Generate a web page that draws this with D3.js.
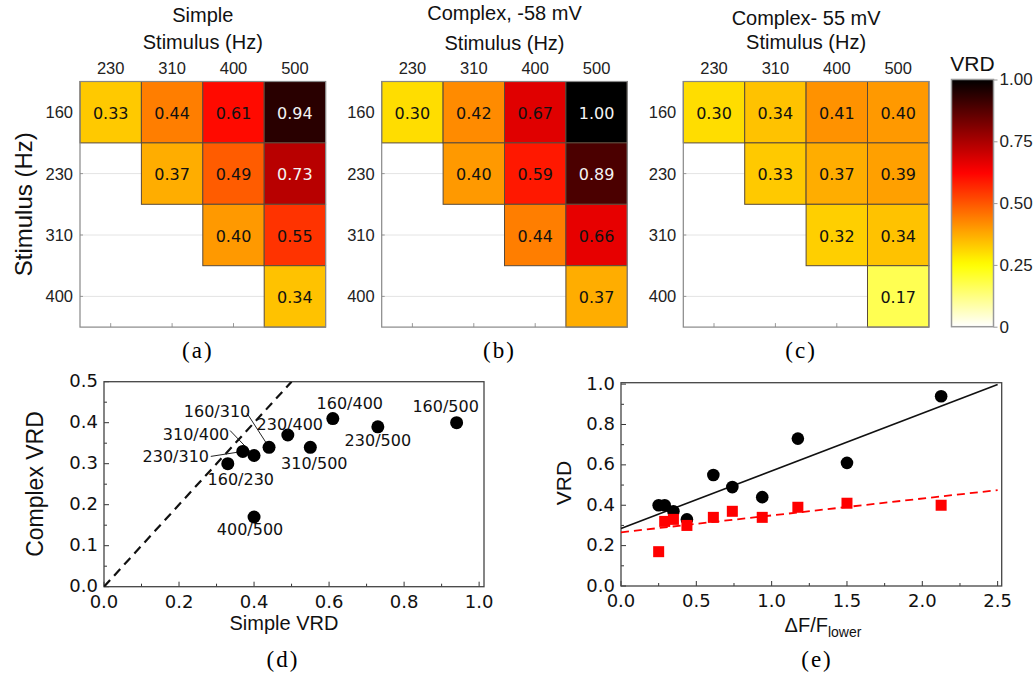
<!DOCTYPE html>
<html><head><meta charset="utf-8">
<script src="https://cdn.jsdelivr.net/npm/d3@7"></script>
<style>body{margin:0;background:#fff} svg{display:block}</style>
</head><body>
<svg id="fig" width="1036" height="675"></svg>
<script>
// ---- data ----
const rowFreqs = ["160", "230", "310", "400"];
const colFreqs = ["230", "310", "400", "500"];
const simpleVRD = [[0.33, 0.44, 0.61, 0.94], [null, 0.37, 0.49, 0.73], [null, null, 0.40, 0.55], [null, null, null, 0.34]];
const complex58VRD = [[0.30, 0.42, 0.67, 1.00], [null, 0.40, 0.59, 0.89], [null, null, 0.44, 0.66], [null, null, null, 0.37]];
const complex55VRD = [[0.30, 0.34, 0.41, 0.40], [null, 0.33, 0.37, 0.39], [null, null, 0.32, 0.34], [null, null, null, 0.17]];
const colorbarTicks = [0, 0.25, 0.5, 0.75, 1.0];

// pairs plotted in (d) and (e)
const pairs = ["160/230", "160/310", "160/400", "160/500", "230/310", "230/400", "230/500", "310/400", "310/500", "400/500"];
const pairSimple = [0.33, 0.44, 0.61, 0.94, 0.37, 0.49, 0.73, 0.40, 0.55, 0.40];
const pairComplex = [0.30, 0.34, 0.41, 0.40, 0.33, 0.37, 0.39, 0.32, 0.34, 0.17];
const pairDeltaF = [0.4375, 0.9375, 1.5, 2.125, 0.348, 0.739, 1.174, 0.290, 0.613, 0.25];
// linear fits drawn in (e): [intercept, slope]
const fitSimple = [0.285, 0.285];
const fitComplex = [0.266, 0.0836];

const svg = d3.select("#fig");
const SANS = "'Liberation Sans', Arial, sans-serif";
const VERD = "'DejaVu Sans', Verdana, sans-serif";
const SERIF = "'Liberation Serif', 'Times New Roman', serif";

// reversed "hot" colormap: 0 -> white, 1 -> black
function hotR(v) {
  const x = 1 - Math.max(0, Math.min(1, v));
  const r = Math.min(1, x / 0.375);
  const g = Math.max(0, Math.min(1, (x - 0.375) / 0.375));
  const b = Math.max(0, Math.min(1, (x - 0.75) / 0.25));
  return d3.rgb(r * 255, g * 255, b * 255).toString();
}

function caption(x, y, s) {
  svg.append("text").attr("x", x).attr("y", y).attr("text-anchor", "middle")
    .attr("font-family", SERIF).attr("font-size", 23).attr("letter-spacing", 2)
    .text(s);
}

// ---- heatmaps ----
function heatmap(left, values, titleLines, showYLabel, tag) {
  const top = 81.5, size = 245.6;
  const x = d3.scaleBand(colFreqs, [left, left + size]);
  const y = d3.scaleBand(rowFreqs, [top, top + size]);
  const g = svg.append("g");

  // faint row gridlines
  g.selectAll("line.grid").data(rowFreqs).join("line")
    .attr("x1", left).attr("x2", left + size)
    .attr("y1", d => y(d) + y.bandwidth() / 2).attr("y2", d => y(d) + y.bandwidth() / 2)
    .attr("stroke", "#e4e4e4").attr("stroke-width", 1);
  // tick marks
  g.selectAll("line.btick").data(colFreqs).join("line")
    .attr("x1", d => x(d) + x.bandwidth() / 2).attr("x2", d => x(d) + x.bandwidth() / 2)
    .attr("y1", top + size).attr("y2", top + size - 4)
    .attr("stroke", "#999");
  g.selectAll("line.ltick").data(rowFreqs).join("line")
    .attr("x1", left).attr("x2", left + 3)
    .attr("y1", d => y(d) + y.bandwidth() / 2).attr("y2", d => y(d) + y.bandwidth() / 2)
    .attr("stroke", "#999");

  const cells = [];
  values.forEach((row, i) => row.forEach((v, j) => {
    if (v !== null) cells.push({ r: rowFreqs[i], c: colFreqs[j], v });
  }));
  g.selectAll("rect.cell").data(cells).join("rect")
    .attr("x", d => x(d.c)).attr("y", d => y(d.r))
    .attr("width", x.bandwidth()).attr("height", y.bandwidth())
    .attr("fill", d => hotR(d.v))
    .attr("stroke", "#5a4a3a").attr("stroke-width", 1);
  g.selectAll("text.val").data(cells).join("text")
    .attr("x", d => x(d.c) + x.bandwidth() / 2)
    .attr("y", d => y(d.r) + y.bandwidth() / 2 + 1)
    .attr("text-anchor", "middle").attr("dominant-baseline", "central")
    .attr("font-family", VERD).attr("font-size", 16)
    .attr("fill", d => d.v > 0.7 ? "#f4f4f4" : "#111")
    .text(d => d.v.toFixed(2));

  // frame
  g.append("rect").attr("x", left).attr("y", top).attr("width", size).attr("height", size)
    .attr("fill", "none").attr("stroke", "#888").attr("stroke-width", 1.2);

  // tick labels
  g.selectAll("text.col").data(colFreqs).join("text")
    .attr("x", d => x(d) + x.bandwidth() / 2).attr("y", 74)
    .attr("text-anchor", "middle").attr("font-family", SANS).attr("font-size", 16.5)
    .attr("fill", "#222").text(d => d);
  g.selectAll("text.row").data(rowFreqs).join("text")
    .attr("x", left - 7).attr("y", d => y(d) + y.bandwidth() / 2)
    .attr("text-anchor", "end").attr("dominant-baseline", "central")
    .attr("font-family", SANS).attr("font-size", 16.5).attr("fill", "#222").text(d => d);

  // titles
  titleLines.forEach(t => {
    g.append("text").attr("x", left + size / 2).attr("y", t.y)
      .attr("text-anchor", "middle").attr("font-family", SANS).attr("font-size", 20)
      .attr("fill", "#111").text(t.s);
  });
  if (showYLabel) {
    g.append("text").attr("transform", `translate(${left - 57},${top + size / 2}) rotate(-90)`)
      .attr("text-anchor", "middle").attr("dominant-baseline", "central")
      .attr("font-family", SANS).attr("font-size", 24).attr("fill", "#111")
      .text("Stimulus (Hz)");
  }
  caption(left + size / 2 - 5, 358, tag);
}

heatmap(80, simpleVRD, [{ s: "Simple", y: 22 }, { s: "Stimulus (Hz)", y: 48.5 }], true, "(a)");
heatmap(381.7, complex58VRD, [{ s: "Complex, -58 mV", y: 19.5 }, { s: "Stimulus (Hz)", y: 49.5 }], false, "(b)");
heatmap(683.3, complex55VRD, [{ s: "Complex- 55 mV", y: 25 }, { s: "Stimulus (Hz)", y: 48.5 }], false, "(c)");

// ---- colorbar ----
(function () {
  const cx = 951.5, cw = 42, cy0 = 79.5, cy1 = 326.7;
  const cs = d3.scaleLinear([0, 1], [cy1, cy0]);
  const grad = svg.append("defs").append("linearGradient").attr("id", "vrdGrad")
    .attr("x1", 0).attr("y1", 1).attr("x2", 0).attr("y2", 0);
  d3.range(0, 1.0001, 0.02).forEach(t => {
    grad.append("stop").attr("offset", t).attr("stop-color", hotR(t));
  });
  svg.append("rect").attr("x", cx).attr("y", cy0).attr("width", cw).attr("height", cy1 - cy0)
    .attr("fill", "url(#vrdGrad)").attr("stroke", "#999").attr("stroke-width", 1.5);
  const ax = svg.append("g").attr("transform", `translate(${cx + cw},0)`)
    .call(d3.axisRight(cs).tickValues(colorbarTicks).tickSize(4).tickPadding(2)
      .tickFormat(d => d === 0 ? "0" : d3.format(".2f")(d)));
  ax.select(".domain").remove();
  ax.selectAll("line").attr("stroke", "#999");
  ax.selectAll("text").attr("font-family", SANS).attr("font-size", 17).attr("fill", "#222");
  svg.append("text").attr("x", cx + cw / 2).attr("y", 71).attr("text-anchor", "middle")
    .attr("font-family", SANS).attr("font-size", 21).attr("fill", "#111").text("VRD");
})();

// ---- shared axis helper for (d) and (e) ----
function frameAxes(x, y, major, minorX, minorY, fmt) {
  const [x0, x1] = x.range(), [y0, y1] = y.range();
  const g = svg.append("g");
  const tickLen = 5, minorLen = 3;
  major.x.forEach(v => g.append("line").attr("x1", x(v)).attr("x2", x(v)).attr("y1", y0).attr("y2", y0 - tickLen).attr("stroke", "#333"));
  minorX.forEach(v => g.append("line").attr("x1", x(v)).attr("x2", x(v)).attr("y1", y0).attr("y2", y0 - minorLen).attr("stroke", "#333"));
  major.y.forEach(v => g.append("line").attr("x1", x0).attr("x2", x0 + tickLen).attr("y1", y(v)).attr("y2", y(v)).attr("stroke", "#333"));
  minorY.forEach(v => g.append("line").attr("x1", x0).attr("x2", x0 + minorLen).attr("y1", y(v)).attr("y2", y(v)).attr("stroke", "#333"));
  g.append("rect").attr("x", x0).attr("y", y1).attr("width", x1 - x0).attr("height", y0 - y1)
    .attr("fill", "none").attr("stroke", "#444").attr("stroke-width", 1.3);
  g.selectAll("text.xt").data(major.x).join("text")
    .attr("x", d => x(d)).attr("y", y0 + 21).attr("text-anchor", "middle")
    .attr("font-family", VERD).attr("font-size", 18).attr("fill", "#111").text(fmt);
  g.selectAll("text.yt").data(major.y).join("text")
    .attr("x", x0 - 6).attr("y", d => y(d) - 1).attr("text-anchor", "end").attr("dominant-baseline", "central")
    .attr("font-family", VERD).attr("font-size", 18).attr("fill", "#111").text(fmt);
  return g;
}

// ---- (d) simple vs complex ----
const dXTicks = [0, 0.2, 0.4, 0.6, 0.8, 1.0];
const dYTicks = [0, 0.1, 0.2, 0.3, 0.4, 0.5];
(function () {
  const x = d3.scaleLinear([0, 1.013], [104, 484]);
  const y = d3.scaleLinear([0, 0.5], [586.7, 381.7]);
  frameAxes(x, y, { x: dXTicks, y: dYTicks },
    [0.1, 0.3, 0.5, 0.7, 0.9], [0.05, 0.15, 0.25, 0.35, 0.45], d3.format(".1f"));

  svg.append("defs").append("clipPath").attr("id", "clipD").append("rect")
    .attr("x", 104).attr("y", 381.7).attr("width", 380).attr("height", 205);
  svg.append("line").attr("clip-path", "url(#clipD)")
    .attr("x1", x(0)).attr("y1", y(0)).attr("x2", x(0.5)).attr("y2", y(0.5))
    .attr("stroke", "#111").attr("stroke-width", 2.2).attr("stroke-dasharray", "9,6");

  const pts = pairs.map((p, i) => ({ p, sx: pairSimple[i], cy: pairComplex[i] }));
  // label placement: offset of text centre from the point, optional leader end near text
  const place = {
    "160/230": [13, 16], "160/310": [-52, -36, [-22, -34]], "160/400": [17, -15], "160/500": [-11, -16],
    "230/310": [-67, 5, [-32, 5]], "230/400": [2, -11], "230/500": [0, 14],
    "310/400": [-58, -21, [-24, -25]], "310/500": [4, 16], "400/500": [-4, 12]
  };
  pts.forEach(d => {
    const o = place[d.p];
    if (o[2]) {
      svg.append("line").attr("x1", x(d.sx) + o[2][0]).attr("y1", y(d.cy) + o[2][1])
        .attr("x2", x(d.sx)).attr("y2", y(d.cy)).attr("stroke", "#222").attr("stroke-width", 1);
    }
  });
  svg.selectAll("circle.d").data(pts).join("circle")
    .attr("cx", d => x(d.sx)).attr("cy", d => y(d.cy)).attr("r", 6.5).attr("fill", "#000");
  svg.selectAll("text.plab").data(pts).join("text")
    .attr("x", d => x(d.sx) + place[d.p][0]).attr("y", d => y(d.cy) + place[d.p][1])
    .attr("text-anchor", "middle").attr("dominant-baseline", "central")
    .attr("font-family", VERD).attr("font-size", 16).attr("fill", "#111").text(d => d.p);

  svg.append("text").attr("x", 284).attr("y", 630).attr("text-anchor", "middle")
    .attr("font-family", SANS).attr("font-size", 20).attr("fill", "#111").text("Simple VRD");
  svg.append("text").attr("transform", "translate(35,484) rotate(-90)")
    .attr("text-anchor", "middle").attr("dominant-baseline", "central")
    .attr("font-family", SANS).attr("font-size", 23).attr("fill", "#111").text("Complex VRD");
  caption(283, 667, "(d)");
})();

// ---- (e) VRD vs relative frequency separation ----
const eXTicks = [0, 0.5, 1.0, 1.5, 2.0, 2.5];
const eYTicks = [0, 0.2, 0.4, 0.6, 0.8, 1.0];
(function () {
  const x = d3.scaleLinear([0, 2.527], [621, 1001.7]);
  const y = d3.scaleLinear([0, 1.007], [586, 382.7]);
  frameAxes(x, y, { x: eXTicks, y: eYTicks },
    [0.25, 0.75, 1.25, 1.75, 2.25], [0.1, 0.3, 0.5, 0.7, 0.9], d3.format(".1f"));

  const line = (fit) => [[0, fit[0]], [2.5, fit[0] + fit[1] * 2.5]];
  svg.append("path").datum(line(fitSimple))
    .attr("d", d3.line().x(d => x(d[0])).y(d => y(d[1])))
    .attr("stroke", "#111").attr("stroke-width", 1.6).attr("fill", "none");
  svg.append("path").datum(line(fitComplex))
    .attr("d", d3.line().x(d => x(d[0])).y(d => y(d[1])))
    .attr("stroke", "#f00").attr("stroke-width", 1.8).attr("fill", "none")
    .attr("stroke-dasharray", "8,5");

  const pts = pairs.map((p, i) => ({ df: pairDeltaF[i], s: pairSimple[i], c: pairComplex[i] }));
  svg.selectAll("circle.e").data(pts).join("circle")
    .attr("cx", d => x(d.df)).attr("cy", d => y(d.s)).attr("r", 6.3).attr("fill", "#000");
  const sq = 11;
  svg.selectAll("rect.e").data(pts).join("rect")
    .attr("x", d => x(d.df) - sq / 2).attr("y", d => y(d.c) - sq / 2)
    .attr("width", sq).attr("height", sq).attr("fill", "#f00");

  const xl = svg.append("text").attr("x", 823).attr("y", 632).attr("text-anchor", "middle")
    .attr("font-family", SANS).attr("font-size", 20).attr("fill", "#111");
  xl.append("tspan").text("ΔF/F");
  xl.append("tspan").attr("font-size", 14).attr("dy", 5).text("lower");
  svg.append("text").attr("transform", "translate(563,483) rotate(-90)")
    .attr("text-anchor", "middle").attr("dominant-baseline", "central")
    .attr("font-family", SANS).attr("font-size", 21).attr("fill", "#111").text("VRD");
  caption(817, 667, "(e)");
})();
</script>
</body></html>
